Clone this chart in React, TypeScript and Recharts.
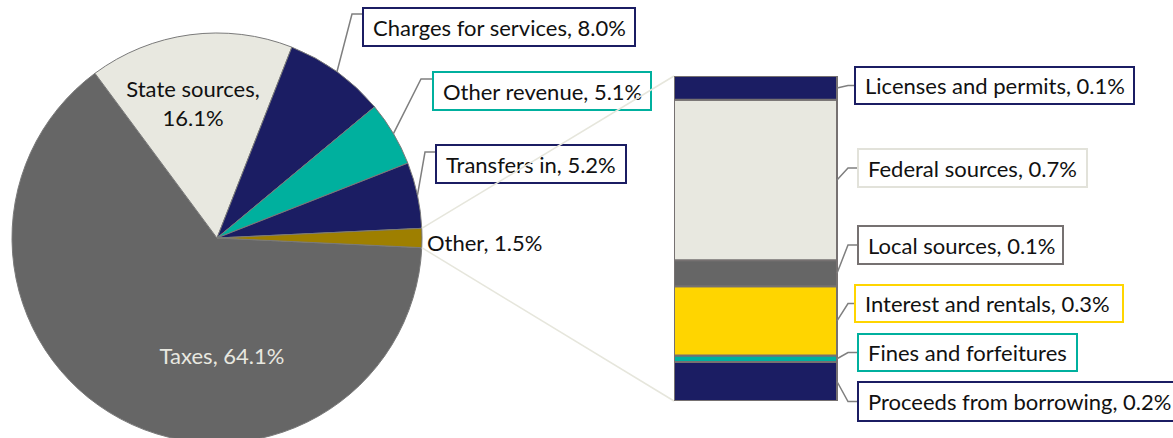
import { PieChart, Pie, Cell, BarChart, Bar, XAxis, YAxis, LabelList } from "recharts";

// main pie, clockwise from the "Other" slice
const pieNames = ["Taxes", "State sources", "Charges for services", "Other revenue", "Transfers in", "Other"];
const pieValues = [64.1, 16.1, 8.0, 5.1, 5.2, 1.5];
const pieColors = ["#666666", "#e8e8e0", "#1b1d63", "#00b09e", "#1b1d63", "#9e7f00"];

// breakdown of "Other", top to bottom
const barNames = [
  "Licenses and permits",
  "Federal sources",
  "Local sources",
  "Interest and rentals",
  "Fines and forfeitures",
  "Proceeds from borrowing",
];
const barValues = [0.11, 0.74, 0.12, 0.32, 0.03, 0.18];
const barColors = ["#1b1d63", "#e8e8e0", "#666666", "#ffd500", "#00b09e", "#1b1d63"];
const barBorders = ["#1b1d63", "#e2e2da", "#767171", "#ffd500", "#00b09e", "#1b1d63"];
const hideValue = ["Fines and forfeitures"];

const W = 1173;
const H = 438;
const PIE_CX = 217;
const PIE_CY = 238;
const PIE_R = 205;
const BAR_LEFT = 674;
const BAR_TOP = 76;
const BAR_W = 163;
const BAR_H = 325;
const RAD = Math.PI / 180;
const FONT = "Lato, 'Noto Sans', sans-serif";
const FS = 22;
const LEADER = "#7f7f7f";
const CONNECT = "#e6e6dc";

const pieData = pieNames.map((name, i) => ({ name, value: pieValues[i] }));
const barData = [
  barNames.reduce<Record<string, number | string>>(
    (acc, n, i) => {
      acc["k" + i] = barValues[i];
      return acc;
    },
    { name: "Other" }
  ),
];

// label placement (page coordinates)
const pieLabelLayout: any[] = [
  { type: "inside", x: 222, y: 355, color: "#e8e8e0" },
  { type: "wrap", x: 193, y: 88, color: "#111111" },
  { type: "box", box: [363, 8, 272, 38], lineY: 14, elbowX: 352 },
  { type: "box", box: [433, 72, 218, 38], lineY: 79, elbowX: 421 },
  { type: "box", box: [436, 145, 190, 38], lineY: 152, elbowX: 425 },
  { type: "plain", x: 427, y: 242 },
];

const barLabelLayout = [
  [855, 67, 279, 37],
  [858, 149, 229, 38],
  [858, 226, 205, 38],
  [855, 285, 268, 37],
  [858, 334, 219, 37],
  [858, 382, 330, 39],
];
const BAR_ELBOW = 848;

const pct = (v: number) => v.toFixed(1) + "%";

const polar = (cx: number, cy: number, r: number, a: number) => ({
  x: cx + r * Math.cos(-a * RAD),
  y: cy + r * Math.sin(-a * RAD),
});

function renderPieLabel(props: any) {
  const { cx, cy, midAngle, outerRadius, index, value, name } = props;
  const lay = pieLabelLayout[index];
  const text = `${name}, ${pct(value)}`;
  if (lay.type === "inside") {
    return (
      <text x={lay.x} y={lay.y} textAnchor="middle" dominantBaseline="central" fill={lay.color} fontSize={FS} fontFamily={FONT}>
        {text}
      </text>
    );
  }
  if (lay.type === "wrap") {
    return (
      <text x={lay.x} y={lay.y} textAnchor="middle" dominantBaseline="central" fill={lay.color} fontSize={FS} fontFamily={FONT}>
        <tspan x={lay.x} dy={0}>{name},</tspan>
        <tspan x={lay.x} dy={29}>{pct(value)}</tspan>
      </text>
    );
  }
  if (lay.type === "plain") {
    // connectors from the "Other" slice to the bar
    const half = value * 1.8;
    const up = polar(cx, cy, outerRadius, midAngle + half);
    const dn = polar(cx, cy, outerRadius, midAngle - half);
    return (
      <g>
        <line x1={up.x} y1={up.y} x2={BAR_LEFT} y2={BAR_TOP} stroke={CONNECT} strokeWidth={1.5} />
        <line x1={dn.x} y1={dn.y} x2={BAR_LEFT} y2={BAR_TOP + BAR_H} stroke={CONNECT} strokeWidth={1.5} />
        <text x={lay.x} y={lay.y} textAnchor="start" dominantBaseline="central" fill="#111111" fontSize={FS} fontFamily={FONT}>
          {text}
        </text>
      </g>
    );
  }
  const p = polar(cx, cy, outerRadius, midAngle);
  const [bx, by, bw, bh] = lay.box;
  return (
    <g>
      <polyline
        points={`${p.x},${p.y} ${lay.elbowX},${lay.lineY} ${bx},${lay.lineY}`}
        fill="none"
        stroke={LEADER}
        strokeWidth={1.5}
      />
      <rect x={bx} y={by} width={bw} height={bh} fill="#ffffff" stroke={pieColors[index]} strokeWidth={2} />
      <text x={bx + 10} y={by + bh / 2} dominantBaseline="central" fill="#111111" fontSize={FS} fontFamily={FONT}>
        {text}
      </text>
    </g>
  );
}

function barLabel(k: number) {
  return (props: any) => {
    const vb = props.viewBox || {};
    const x = props.x ?? vb.x;
    const y = props.y ?? vb.y;
    const w = props.width ?? vb.width;
    const h = props.height ?? vb.height;
    const [bx0, by, bw, bh] = barLabelLayout[k];
    const bx = bx0 - BAR_LEFT;
    const ex = BAR_ELBOW - BAR_LEFT;
    const my = by + bh / 2;
    const name = barNames[k];
    const text = hideValue.includes(name) ? name : `${name}, ${pct(barValues[k])}`;
    return (
      <g>
        <polyline
          points={`${x + w},${y + h / 2} ${ex},${my} ${bx},${my}`}
          fill="none"
          stroke={LEADER}
          strokeWidth={1.5}
        />
        <rect x={bx} y={by} width={bw} height={bh} fill="#ffffff" stroke={barBorders[k]} strokeWidth={2} />
        <text x={bx + 10} y={my} dominantBaseline="central" fill="#111111" fontSize={FS} fontFamily={FONT}>
          {text}
        </text>
      </g>
    );
  };
}

export default function App() {
  // bottom of the stack first
  const order = barNames.map((_, i) => i).reverse();
  return (
    <div style={{ position: "absolute", left: 0, top: 0, width: W, height: H, background: "#ffffff", overflow: "hidden", fontFamily: FONT }}>
      <div style={{ position: "absolute", left: 0, top: 0 }}>
        <PieChart width={W} height={H} margin={{ top: 0, right: 0, bottom: 0, left: 0 }}>
          <Pie
            data={pieData}
            dataKey="value"
            nameKey="name"
            cx={PIE_CX}
            cy={PIE_CY}
            outerRadius={PIE_R}
            startAngle={-2.7}
            endAngle={-362.7}
            stroke="#7a7a7a"
            strokeWidth={1}
            labelLine={false}
            label={renderPieLabel}
            isAnimationActive={false}
          >
            {pieData.map((d, i) => (
              <Cell key={d.name} fill={pieColors[i]} />
            ))}
          </Pie>
        </PieChart>
      </div>
      <div style={{ position: "absolute", left: BAR_LEFT, top: 0 }}>
        <BarChart
          width={W - BAR_LEFT}
          height={H}
          data={barData}
          margin={{ top: BAR_TOP, bottom: H - BAR_TOP - BAR_H, left: 0, right: W - BAR_LEFT - BAR_W }}
          barCategoryGap={0}
        >
          <XAxis dataKey="name" hide />
          <YAxis hide domain={[0, 1.5]} allowDataOverflow />
          {order.map((i) => (
            <Bar
              key={i}
              dataKey={"k" + i}
              stackId="s"
              fill={barColors[i]}
              stroke="#767171"
              strokeWidth={2}
              isAnimationActive={false}
            >
              <LabelList content={barLabel(i)} />
            </Bar>
          ))}
        </BarChart>
      </div>
    </div>
  );
}
